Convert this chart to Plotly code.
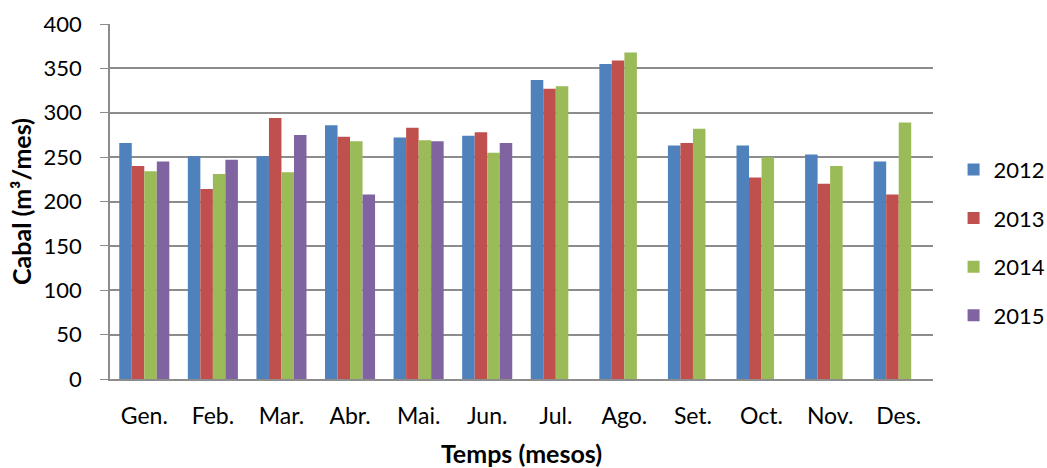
import plotly.graph_objects as go

months = ["Gen.", "Feb.", "Mar.", "Abr.", "Mai.", "Jun.", "Jul.", "Ago.", "Set.", "Oct.", "Nov.", "Des."]
y2012 = [266, 251, 251, 286, 272, 274, 337, 355, 263, 263, 253, 245]
y2013 = [240, 214, 294, 273, 283, 278, 327, 359, 266, 227, 220, 208]
y2014 = [234, 231, 233, 268, 269, 255, 330, 368, 282, 250, 240, 289]
y2015 = [245, 247, 275, 208, 268, 266, None, None, None, None, None, None]

series = [("2012", y2012, "#4F81BD"), ("2013", y2013, "#C0504D"),
          ("2014", y2014, "#9BBB59"), ("2015", y2015, "#8064A2")]

fig = go.Figure()
for name, vals, col in series:
    fig.add_trace(go.Bar(x=months, y=vals, name=name, legendgroup=name,
                         marker=dict(color=col, line=dict(width=0))))

font = "Lato, 'Open Sans', sans-serif"
fig.update_layout(
    width=1047, height=468,
    margin=dict(l=110, r=114, t=24, b=89, autoexpand=False),
    paper_bgcolor="white", plot_bgcolor="white",
    barmode="group", bargap=0.27, bargroupgap=0,
    font=dict(family=font, size=22, color="black"),
    legend=dict(x=1.025, y=0.384, xanchor="left", yanchor="middle",
                font=dict(size=22), tracegroupgap=17, traceorder="grouped",
                itemwidth=30),
    showlegend=True,
)
fig.update_yaxes(range=[0, 400], dtick=50, showgrid=True, gridcolor="#8c8c8c", gridwidth=1.5,
                 showline=True, linecolor="#8c8c8c", linewidth=1.5,
                 ticks="outside", ticklen=8, tickcolor="#8c8c8c",
                 tickfont=dict(size=22), ticklabelstandoff=14,
                 title=dict(text="<b>Cabal (m³/mes)</b>", font=dict(size=25), standoff=5),
                 zeroline=False)
fig.update_xaxes(showline=True, linecolor="#8c8c8c", linewidth=1.5, ticks="",
                 tickfont=dict(size=23), ticklabelstandoff=16,
                 title=dict(text="<b>Temps (mesos)</b>", font=dict(size=25), standoff=20))

fig.write_html("out.html")
